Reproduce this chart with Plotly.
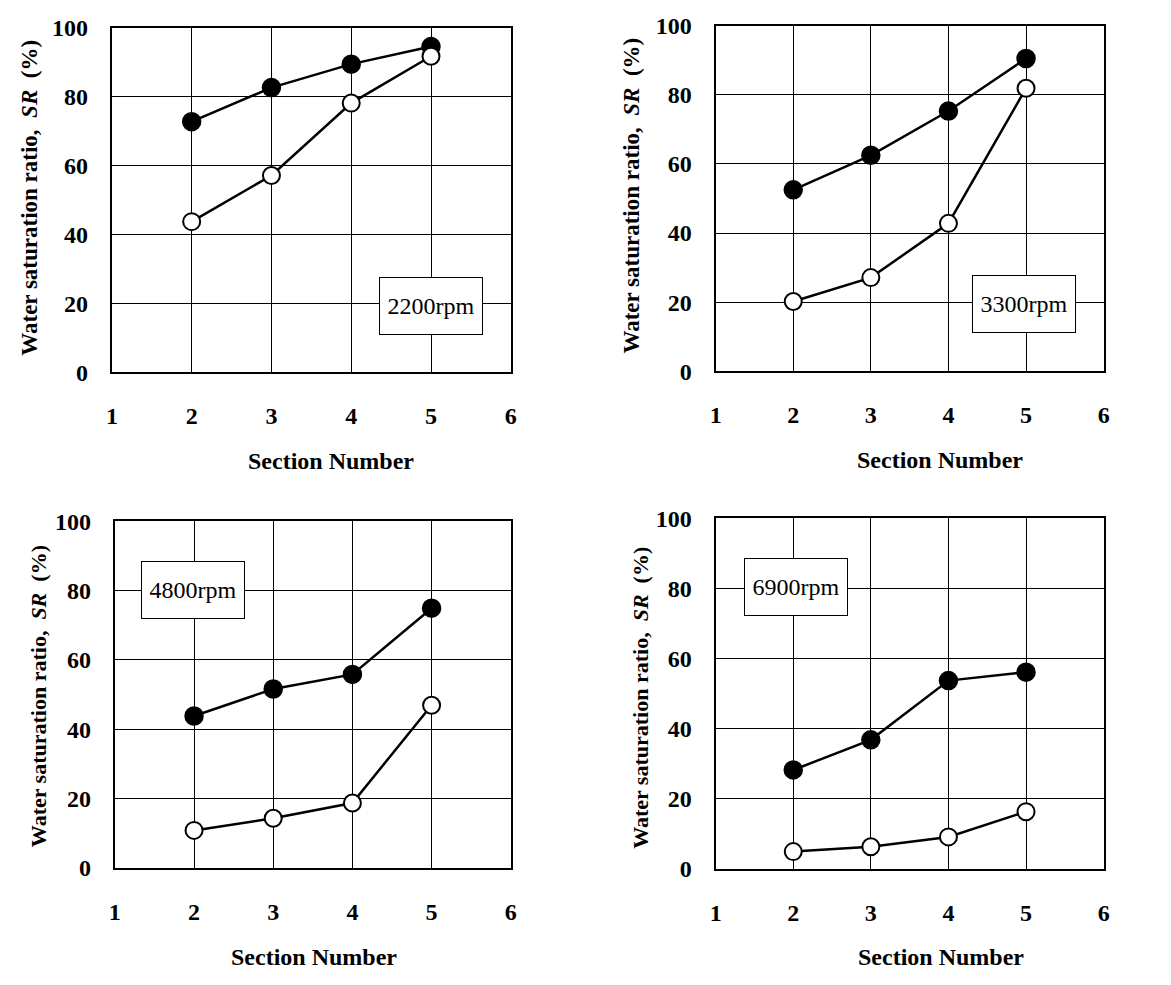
import plotly.graph_objects as go

W, H = 1171, 985

sections = [2, 3, 4, 5]
panel_labels = ["2200rpm", "3300rpm", "4800rpm", "6900rpm"]
filled_2200 = [72.7, 82.6, 89.4, 94.5]
open_2200 = [43.7, 57.1, 78.1, 91.7]
filled_3300 = [52.5, 62.5, 75.3, 90.5]
open_3300 = [20.2, 27.1, 42.8, 81.9]
filled_4800 = [43.8, 51.6, 55.8, 74.9]
open_4800 = [10.8, 14.3, 18.7, 46.9]
filled_6900 = [28.2, 36.8, 53.7, 56.1]
open_6900 = [4.9, 6.3, 9.1, 16.3]
x_ticks = [1, 2, 3, 4, 5, 6]
y_ticks = [0, 20, 40, 60, 80, 100]

FONT = "Liberation Serif"

# plot-area pixel boxes: (left, right, top, bottom)
boxes = [(107, 510, 15, 369), (717, 1109, 13, 368), (110, 510, 522, 878), (717, 1109, 519, 879)]
# label box centres in data coords
label_pos = [(5.0, 19.2), (4.97, 19.4), (1.99, 80.3), (2.03, 80.4)]
series = [(filled_2200, open_2200), (filled_3300, open_3300),
          (filled_4800, open_4800), (filled_6900, open_6900)]
# axis-title placement (px): y-title centre x, y ; x-title centre x, y ; y-title size
titles = [(24, 190, 328, 460, 23), (632, 188, 944, 459, 23),
          (33, 702, 311, 970, 22), (641, 703, 945, 970, 22)]

fig = go.Figure()
layout = dict(width=W, height=H, margin=dict(l=0, r=0, t=0, b=0),
              paper_bgcolor="white", plot_bgcolor="white", showlegend=False,
              annotations=[])

for i, (fil, opn) in enumerate(series):
    n = "" if i == 0 else str(i + 1)
    xa, ya = "x" + n, "y" + n
    fig.add_trace(go.Scatter(x=sections, y=fil, mode="lines+markers", xaxis=xa, yaxis=ya,
                             line=dict(color="black", width=2.5),
                             marker=dict(symbol="circle", size=18, color="black",
                                         line=dict(color="black", width=1.5)),
                             cliponaxis=False))
    fig.add_trace(go.Scatter(x=sections, y=opn, mode="lines+markers", xaxis=xa, yaxis=ya,
                             line=dict(color="black", width=2.5),
                             marker=dict(symbol="circle", size=17, color="white",
                                         line=dict(color="black", width=2)),
                             cliponaxis=False))
    l, r, t, b = boxes[i]
    common = dict(showline=True, mirror=True, linecolor="black", linewidth=2,
                  showgrid=True, gridcolor="black", gridwidth=1, zeroline=False,
                  ticks="", tickfont=dict(family=FONT, size=24, color="black", weight="bold"))
    layout["xaxis" + n] = dict(domain=[l / W, r / W], anchor=ya, range=[1, 6],
                               tickvals=x_ticks, ticklabelstandoff=21, **common)
    layout["yaxis" + n] = dict(domain=[1 - b / H, 1 - t / H], anchor=xa, range=[0, 100],
                               tickvals=y_ticks, ticklabelstandoff=17, **common)
    lx, ly = label_pos[i]
    layout["annotations"].append(dict(
        x=lx, y=ly, xref=xa, yref=ya, text=panel_labels[i], showarrow=False,
        font=dict(family=FONT, size=24, color="black"),
        bgcolor="white", bordercolor="black", borderwidth=1, width=100, height=54))
    ytx, yty, xtx, xty, ysz = titles[i]
    layout["annotations"].append(dict(
        x=ytx / W, y=1 - yty / H, xref="paper", yref="paper", textangle=-90,
        text="<b>Water saturation ratio,\u00a0\u00a0<i>SR</i>\u00a0\u00a0(%)</b>",
        showarrow=False, xanchor="center", yanchor="middle",
        font=dict(family=FONT, size=ysz, color="black")))
    layout["annotations"].append(dict(
        x=xtx / W, y=1 - xty / H, xref="paper", yref="paper",
        text="<b>Section Number</b>", showarrow=False, xanchor="center", yanchor="middle",
        font=dict(family=FONT, size=24, color="black")))

fig.update_layout(**layout)
fig.write_html("out.html", config={"displayModeBar": False},
               post_script="document.body.style.margin='0';")
